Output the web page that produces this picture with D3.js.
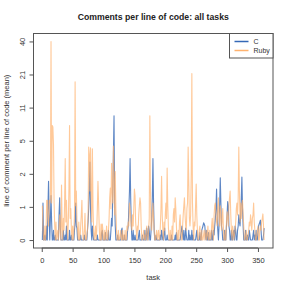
<!DOCTYPE html>
<html>
<head>
<meta charset="utf-8">
<script src="https://cdn.jsdelivr.net/npm/d3@7"></script>
<style>
  body { margin: 0; background: #fff; }
  svg { font-family: "Liberation Sans", Arial, sans-serif; }
</style>
</head>
<body>
<svg id="chart" width="291" height="291"></svg>
<script>
// DATA: mean comment lines per line of code, one value per task (1..360)
const seriesNames = ["C", "Ruby"];
const cValues = [
  0,1.0,0,0,0.1,0,0,0.3,0,0.8,2.0,0.6,0,0.5,1.3,0.4,0,0,0.2,0,
  0,0.1,0,0,0,0,0,0.6,1.2,0.3,0,0,0,0,0.2,0,0,0.1,0,0.3,
  0,0,0,0,0.2,0,0,0.1,0,0,0,0,0.2,0.4,1.0,0.3,0.25,0,0,0,
  0,0,0.1,0,0,0,0,0,0.1,0,0,0,0,0.2,0.4,0.8,1.5,3.3,0.8,0.2,
  0,0.3,0.1,0,0,0,0,0,0,0.1,0,0,0,0,0,0,0.15,0.2,0,0,
  0,0,0.15,0,0,0,0,0.2,0,0,0,0.2,0.5,0.3,1.5,4.0,9.2,1.0,0.3,0,
  0,0,0.1,0,0,0,0,0,0.2,0.25,0,0,0,0.1,0,0,0,0,0.2,0.3,
  0.8,1.5,3.6,1.2,0.3,0,0,0.2,0,0,0.1,0,0,0,0,0,0.1,0.2,0,0,
  0,0,0.1,0,0,0,0.2,0,0,0.25,0.1,0,0.3,0.2,0,0,0.2,0.5,1.2,3.6,
  1.0,0.2,0,0,0.1,0,0,0,0,0,0,0.1,0,0.2,0.1,0,0,0.15,0.25,0,
  0,0,0.1,0,0,0,0,0,0,0.1,0,0,0,0,0,0.1,0,0.15,0,0,
  0,0,0,0,0.1,0.2,0.3,0.1,0,0.2,0,0,0.25,0.1,0,0,0,0.2,0,0.1,
  0,0,0.2,0,0.1,0,0,0,0,0.1,0.2,0,0,0,0,0.15,0,0,0.2,0.25,
  0.3,0.38,0.35,0.3,0.1,0,0.2,0,0,0.15,0,0,0,0,0.2,0,0,0.2,0.1,0.3,
  0.5,0.8,1.6,0.6,0.2,0,0.3,0.9,2.2,1.0,0.3,0.2,0,0,0,0.2,0,0,0.3,0.6,
  1.05,0.9,0.3,0.2,0,0,0.2,0,0,0.15,0.2,0,0.3,0.2,0,0,0.2,0.3,0.6,0.4,
  0.3,0.6,1.2,2.25,0.8,0.3,0,0,0,0.2,0,0,0.1,0,0,0.2,0.1,0,0,0,
  0,0.1,0.2,0,0.1,0,0.2,0,0,0.15,0.3,0.35,0.4,0.45,0.2,0,0,0,0.1,0.25
];
const rubyValues = [
  0.9,0.2,0,0,0.3,0,0.2,1.1,1.1,0.5,0.3,1.1,1.0,1.2,40,1.0,7.5,7.3,5.0,1.0,
  0.3,0,0.4,0,0.1,0.2,0,0.3,0.6,0.2,0,1.8,0.3,0,0.5,0.2,1.0,3.6,0.4,1.1,
  0.3,0,0.4,1.6,7.5,0.5,0.8,0.2,0,0.3,0,0.2,0.6,18.3,0.9,1.5,0.4,0.2,0,0.4,
  0,0,0.3,0.6,1.1,0.3,0,0,0.2,0.65,0,0,0.1,0.2,0.6,4.7,4.0,1.5,4.6,1.2,
  0.4,4.5,0.8,0.2,0,0.1,0.3,0,0.2,0.8,2.0,1.0,0.3,0,0,0.35,0,0.35,0.2,0,
  0,0.2,0,0.1,0.3,0,0,0.2,0.5,1.2,1.65,0.8,3.2,1.5,1.0,4.8,2.0,0.6,2.6,0.8,
  0.2,0,0,0.2,0,0,0.1,0.2,0,0,0.2,0,0.1,0,0.2,0,0,0.3,0.2,0.4,
  0.3,1.0,0.8,0.5,0.3,0.2,0.6,0.3,0.8,1.6,1.3,0.4,0.2,0,0.3,0.2,0.6,0.9,1.2,1.0,
  0.3,0,0,0.1,0.2,0,0.1,0,0.2,0.3,0,0,0.2,0.5,9.2,1.5,0.3,0.2,0.6,1.0,
  0.5,0.2,0,0,0.1,0.2,0,0.1,0.2,0,0,0.3,0.8,2.3,0.6,0.2,0,0.4,0.2,0.6,
  1.0,0.5,2.85,0.9,0.3,0,0,0.2,0,0,0.3,0,0.6,0.8,0.4,1.2,0.8,0.3,0,0,
  0.2,0,0.4,0.6,0.2,0,0,0.3,0.6,0.9,1.2,0.6,0.3,0.2,0.8,1.0,4.7,2.0,0.5,0.3,
  0.6,2.5,21.5,1.0,0.3,0,0.4,0.3,0.9,1.85,0.6,0.2,0,0,0.2,0.3,0,0,0.2,0,
  0,0.1,0.2,0,0.1,0.2,0,0.1,0.3,0,0,0.2,0.1,0,0.3,0.5,0.2,0,0.6,0.9,
  1.0,0.6,0.4,0.3,0.8,1.2,0.5,0.3,0.9,0.7,0.2,0.4,0.8,0.3,0,0,0.2,0,0.4,0.7,
  0.5,0.3,0.9,1.2,1.5,0.6,0.2,0,0.3,0.2,0,0.1,0.2,0.4,0.8,1.0,0.6,1.2,4.7,1.5,
  0.4,1.0,0.5,0.9,1.1,0.6,0.3,0,0,0.1,0.2,0,0,0.1,0.2,0.4,0.3,0.6,0.4,0.2,
  0.5,0.6,1.0,0.4,0.2,0,0,0.1,0.2,0.3,0,0,0.2,0.3,0.2,0.4,0.5,0.63,0.3,0
];
const xTicks = [0, 50, 100, 150, 200, 250, 300, 350];
// y ticks sit evenly on the log(1 + v) axis; labels are the rounded values
const yTicks = [0, 0.86, 2.45, 5.4, 10.9, 21.1, 40];

// DIMENSIONS
const WIDTH = 291;
const HEIGHT = 291;
const margin = {left: 33.5, right: 18, top: 33.5, bottom: 43};
const plotRight = WIDTH - margin.right;
const plotBottom = HEIGHT - margin.bottom;

const colors = {C: "#3568b6", Ruby: "#ffb26e"};

const svg = d3.select("#chart");

const tasks = d3.range(1, cValues.length + 1);
const xPad = 0.04 * (tasks.length - 1);
const x = d3.scaleLinear()
  .domain([1 - xPad, tasks.length + xPad])
  .range([margin.left, plotRight]);

const yMax = Math.log1p(40);
const y = d3.scaleLinear()
  .domain([-0.04 * yMax, yMax * 1.04])
  .range([plotBottom, margin.top]);
const yv = v => y(Math.log1p(v));

// lines: C first, Ruby drawn on top with transparency
const line = d3.line()
  .x((_, i) => x(tasks[i]))
  .y(d => yv(d));

svg.append("path")
  .attr("d", line(cValues))
  .attr("fill", "none")
  .attr("stroke", colors.C)
  .attr("stroke-width", 1.1)
  .attr("stroke-opacity", 0.8)
  .attr("stroke-linejoin", "round");

svg.append("path")
  .attr("d", line(rubyValues))
  .attr("fill", "none")
  .attr("stroke", colors.Ruby)
  .attr("stroke-width", 1.1)
  .attr("stroke-opacity", 0.7)
  .attr("stroke-linejoin", "round");

// box
svg.append("rect")
  .attr("x", margin.left)
  .attr("y", margin.top)
  .attr("width", plotRight - margin.left)
  .attr("height", plotBottom - margin.top)
  .attr("fill", "none")
  .attr("stroke", "#555")
  .attr("stroke-width", 1);

// x axis
const xAxis = d3.axisBottom(x)
  .tickValues(xTicks)
  .tickSize(4)
  .tickPadding(6);
const gx = svg.append("g")
  .attr("transform", `translate(0,${plotBottom})`)
  .call(xAxis);
gx.select(".domain")
  .attr("d", `M${x(xTicks[0])},0H${x(xTicks[xTicks.length - 1])}`)
  .attr("stroke", "#555");
gx.selectAll(".tick line").attr("stroke", "#555");
gx.selectAll("text")
  .attr("font-size", 7.5)
  .attr("fill", "#333");

// y axis (log(1+v) scale)
const yAxis = d3.axisLeft(y)
  .tickValues(yTicks.map(Math.log1p))
  .tickFormat((_, i) => d3.format(".0f")(yTicks[i]))
  .tickSize(4);
const gy = svg.append("g")
  .attr("transform", `translate(${margin.left},0)`)
  .call(yAxis);
gy.select(".domain")
  .attr("d", `M0,${yv(yTicks[0])}V${yv(yTicks[yTicks.length - 1])}`)
  .attr("stroke", "#555");
gy.selectAll(".tick line").attr("stroke", "#555");
gy.selectAll("text")
  .attr("font-size", 7.5)
  .attr("fill", "#333")
  .attr("x", null)
  .attr("dy", null)
  .attr("text-anchor", "middle")
  .attr("transform", "translate(-9,0) rotate(-90)");

// titles
svg.append("text")
  .attr("x", (margin.left + plotRight) / 2)
  .attr("y", 20)
  .attr("text-anchor", "middle")
  .attr("font-size", 8.7)
  .attr("font-weight", "bold")
  .attr("fill", "#222")
  .text("Comments per line of code: all tasks");

svg.append("text")
  .attr("x", (margin.left + plotRight) / 2)
  .attr("y", 280)
  .attr("text-anchor", "middle")
  .attr("font-size", 7.5)
  .attr("fill", "#333")
  .text("task");

svg.append("text")
  .attr("transform", `translate(9,${(margin.top + plotBottom) / 2}) rotate(-90)`)
  .attr("text-anchor", "middle")
  .attr("font-size", 7.5)
  .attr("fill", "#333")
  .text("line of comment per line of code (mean)");

// legend
const legendW = 43.5, legendH = 24.5;
const legend = svg.append("g")
  .attr("transform", `translate(${plotRight - legendW},${margin.top})`);
legend.append("rect")
  .attr("width", legendW)
  .attr("height", legendH)
  .attr("fill", "#fff")
  .attr("stroke", "#555");
legend.selectAll("g.item")
  .data(seriesNames)
  .join("g")
  .attr("class", "item")
  .attr("transform", (_, i) => `translate(0,${8 + i * 9})`)
  .each(function (d) {
    const g = d3.select(this);
    g.append("line")
      .attr("x1", 5).attr("x2", 19)
      .attr("stroke", colors[d])
      .attr("stroke-width", 1.5);
    g.append("text")
      .attr("x", 24)
      .attr("dy", "0.35em")
      .attr("font-size", 7)
      .attr("fill", "#333")
      .text(d);
  });
</script>
</body>
</html>
